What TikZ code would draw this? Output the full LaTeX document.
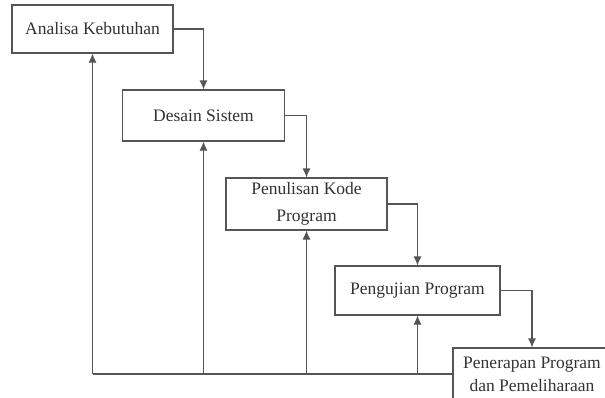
\documentclass[tikz,border=0pt]{standalone}
\usepackage{fontspec}
\setmainfont{Liberation Serif}
\usetikzlibrary{arrows.meta}
\definecolor{ln}{HTML}{555555}
\definecolor{tx}{HTML}{333333}
\tikzset{
  stage/.style={draw=ln, line width=1.1pt, rectangle, inner sep=0pt, align=center,
    text=tx, font=\fontsize{17.5}{27}\selectfont},
  flow/.style={draw=ln, line width=1.1pt, -{Latex[length=9pt,width=8pt]}},
  link/.style={draw=ln, line width=1.1pt}
}
\begin{document}
\begin{tikzpicture}[x=1pt,y=-1pt]
\useasboundingbox (0,0) rectangle (605,397);
\fill[white] (0,0) rectangle (605,397);
\node[stage, minimum width=161pt, minimum height=48pt] (b1) at (92.5,29) {Analisa Kebutuhan};
\node[stage, minimum width=162pt, minimum height=51pt] (b2) at (203.5,115.5) {Desain Sistem};
\node[stage, minimum width=161pt, minimum height=52pt] (b3) at (306.5,204) {Penulisan Kode\\Program};
\node[stage, minimum width=165pt, minimum height=49pt] (b4) at (417.5,290.5) {Pengujian Program};
\node[stage, minimum width=158pt, minimum height=52pt, font=\fontsize{17.5}{23}\selectfont] (b5) at (532,374) {Penerapan Program\\dan Pemeliharaan};
\draw[flow] (b1.east) -| (b2.north);
\draw[flow] (b2.east) -| (b3.north);
\draw[flow] (b3.east) -| (b4.north);
\draw[flow] (b4.east) -| (b5.north);
\coordinate (c1) at (b5.west -| b1.south);
\draw[link] (b5.west) -- (c1);
\draw[flow] (c1) -- (b1.south);
\draw[flow] (b5.west -| b2.south) -- (b2.south);
\draw[flow] (b5.west -| b3.south) -- (b3.south);
\draw[flow] (b5.west -| b4.south) -- (b4.south);
\end{tikzpicture}
\end{document}
